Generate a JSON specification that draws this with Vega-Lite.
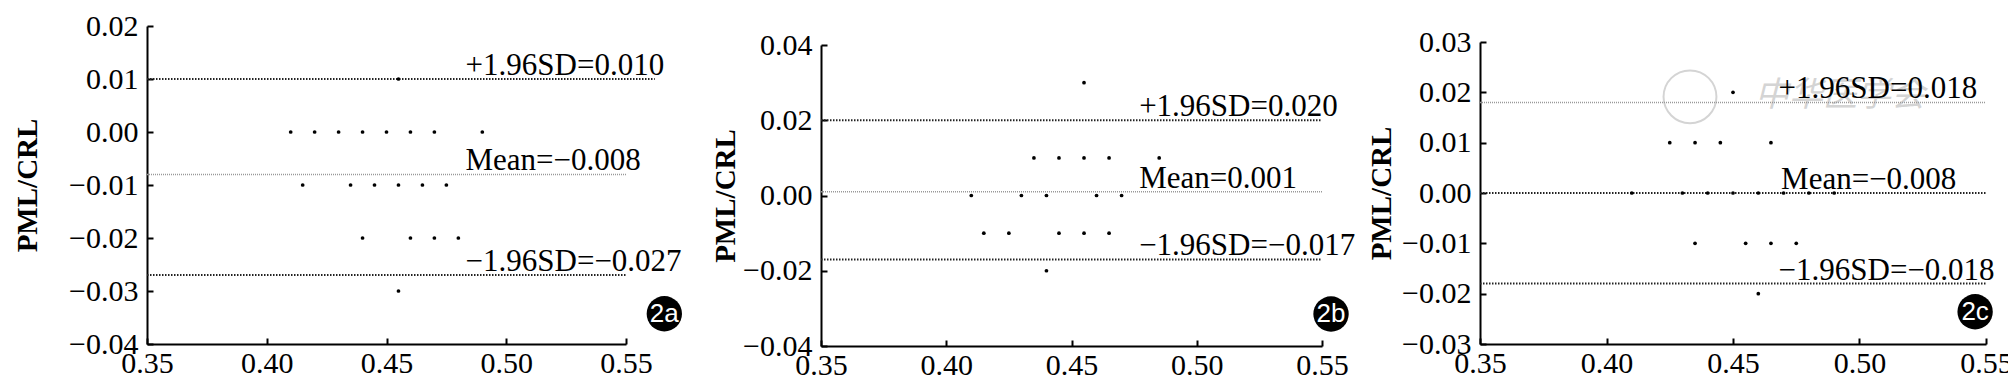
{
  "$schema": "https://vega.github.io/schema/vega-lite/v6.json",
  "padding": {"left": 13, "top": 11, "right": 0, "bottom": 0},
  "background": "white",
  "config": {
    "view": {"stroke": null},
    "axis": {
      "labelFont": "Liberation Serif", "labelFontSize": 30, "labelColor": "black",
      "domainColor": "black", "domainWidth": 2, "tickColor": "black", "tickWidth": 2, "tickSize": -6,
      "grid": false, "labelOverlap": false, "labelFlush": false, "labelBound": false,
      "titleFont": "Liberation Serif", "titleFontSize": 29, "titleFontWeight": "bold", "titleColor": "black"
    }
  },
  "datasets": {
    "pts": [
      {"panel": "a", "x": 0.455, "y": 0.01},
      {"panel": "a", "x": 0.41, "y": 0}, {"panel": "a", "x": 0.42, "y": 0}, {"panel": "a", "x": 0.43, "y": 0}, {"panel": "a", "x": 0.44, "y": 0},
      {"panel": "a", "x": 0.45, "y": 0}, {"panel": "a", "x": 0.46, "y": 0}, {"panel": "a", "x": 0.47, "y": 0}, {"panel": "a", "x": 0.49, "y": 0},
      {"panel": "a", "x": 0.415, "y": -0.01}, {"panel": "a", "x": 0.435, "y": -0.01}, {"panel": "a", "x": 0.445, "y": -0.01},
      {"panel": "a", "x": 0.455, "y": -0.01}, {"panel": "a", "x": 0.465, "y": -0.01}, {"panel": "a", "x": 0.475, "y": -0.01},
      {"panel": "a", "x": 0.44, "y": -0.02}, {"panel": "a", "x": 0.46, "y": -0.02}, {"panel": "a", "x": 0.47, "y": -0.02}, {"panel": "a", "x": 0.48, "y": -0.02},
      {"panel": "a", "x": 0.455, "y": -0.03},
      {"panel": "b", "x": 0.455, "y": 0.03},
      {"panel": "b", "x": 0.435, "y": 0.01}, {"panel": "b", "x": 0.445, "y": 0.01}, {"panel": "b", "x": 0.455, "y": 0.01}, {"panel": "b", "x": 0.465, "y": 0.01}, {"panel": "b", "x": 0.485, "y": 0.01},
      {"panel": "b", "x": 0.41, "y": 0}, {"panel": "b", "x": 0.43, "y": 0}, {"panel": "b", "x": 0.44, "y": 0}, {"panel": "b", "x": 0.46, "y": 0}, {"panel": "b", "x": 0.47, "y": 0},
      {"panel": "b", "x": 0.415, "y": -0.01}, {"panel": "b", "x": 0.425, "y": -0.01}, {"panel": "b", "x": 0.445, "y": -0.01}, {"panel": "b", "x": 0.455, "y": -0.01}, {"panel": "b", "x": 0.465, "y": -0.01},
      {"panel": "b", "x": 0.44, "y": -0.02},
      {"panel": "c", "x": 0.45, "y": 0.02},
      {"panel": "c", "x": 0.425, "y": 0.01}, {"panel": "c", "x": 0.435, "y": 0.01}, {"panel": "c", "x": 0.445, "y": 0.01}, {"panel": "c", "x": 0.465, "y": 0.01},
      {"panel": "c", "x": 0.41, "y": 0}, {"panel": "c", "x": 0.43, "y": 0}, {"panel": "c", "x": 0.44, "y": 0}, {"panel": "c", "x": 0.45, "y": 0},
      {"panel": "c", "x": 0.46, "y": 0}, {"panel": "c", "x": 0.47, "y": 0}, {"panel": "c", "x": 0.48, "y": 0}, {"panel": "c", "x": 0.49, "y": 0},
      {"panel": "c", "x": 0.435, "y": -0.01}, {"panel": "c", "x": 0.455, "y": -0.01}, {"panel": "c", "x": 0.465, "y": -0.01}, {"panel": "c", "x": 0.475, "y": -0.01},
      {"panel": "c", "x": 0.46, "y": -0.02}
    ],
    "lines": [
      {"panel": "a", "line": "upper", "x": 0.35, "xe": 0.562, "y": 0.010},
      {"panel": "a", "line": "mean", "x": 0.35, "xe": 0.55, "y": -0.008},
      {"panel": "a", "line": "lower", "x": 0.35, "xe": 0.55, "y": -0.027},
      {"panel": "b", "line": "upper", "x": 0.35, "xe": 0.55, "y": 0.020},
      {"panel": "b", "line": "mean", "x": 0.35, "xe": 0.55, "y": 0.001},
      {"panel": "b", "line": "lower", "x": 0.35, "xe": 0.55, "y": -0.017},
      {"panel": "c", "line": "upper", "x": 0.35, "xe": 0.55, "y": 0.018},
      {"panel": "c", "line": "mean", "x": 0.35, "xe": 0.55, "y": 0.0},
      {"panel": "c", "line": "lower", "x": 0.35, "xe": 0.55, "y": -0.018}
    ],
    "labels": [
      {"panel": "a", "x": 0.483, "y": 0.010, "text": "+1.96SD=0.010"},
      {"panel": "a", "x": 0.483, "y": -0.008, "text": "Mean=−0.008"},
      {"panel": "a", "x": 0.483, "y": -0.027, "text": "−1.96SD=−0.027"},
      {"panel": "b", "x": 0.477, "y": 0.020, "text": "+1.96SD=0.020"},
      {"panel": "b", "x": 0.477, "y": 0.001, "text": "Mean=0.001"},
      {"panel": "b", "x": 0.477, "y": -0.017, "text": "−1.96SD=−0.017"},
      {"panel": "c", "x": 0.468, "y": 0.018, "text": "+1.96SD=0.018"},
      {"panel": "c", "x": 0.469, "y": 0.0, "text": "Mean=−0.008"},
      {"panel": "c", "x": 0.468, "y": -0.018, "text": "−1.96SD=−0.018"}
    ],
    "badges": [
      {"panel": "a", "x": 0.566, "y": -0.0343, "text": "2a"},
      {"panel": "b", "x": 0.5536, "y": -0.0315, "text": "2b"},
      {"panel": "c", "x": 0.5457, "y": -0.0236, "text": "2c"}
    ],
    "marks": [
      {"panel": "c", "x": 0.4923, "y": 0.0193, "text": "中华医学会"}
    ],
    "seal": [
      {"panel": "c", "x": 0.433, "y": 0.0191}
    ]
  },
  "spacing": 29,
  "hconcat": [
    {
      "width": 479, "height": 318,
      "encoding": {
        "x": {"field": "x", "type": "quantitative", "scale": {"domain": [0.35, 0.55], "nice": false, "zero": false},
              "axis": {"values": [0.35, 0.4, 0.45, 0.5, 0.55], "format": ".2f", "labelPadding": 10, "title": null, "labelFont": "Liberation Serif", "labelFontSize": 30}},
        "y": {"field": "y", "type": "quantitative", "scale": {"domain": [-0.04, 0.02], "nice": false, "zero": false},
              "axis": {"values": [-0.04, -0.03, -0.02, -0.01, 0, 0.01, 0.02], "format": ".2f", "labelPadding": 15, "labelFont": "Liberation Serif", "labelFontSize": 30, "title": "PML/CRL", "titlePadding": 26}}
      },
      "layer": [
        {"data": {"name": "lines"}, "transform": [{"filter": "datum.panel === 'a' && datum.line !== 'mean'"}],
         "mark": {"type": "rule", "stroke": "#222", "strokeWidth": 2, "strokeDash": [1.5, 1.5]},
         "encoding": {"x2": {"field": "xe"}}},
        {"data": {"name": "lines"}, "transform": [{"filter": "datum.panel === 'a' && datum.line === 'mean'"}],
         "mark": {"type": "rule", "stroke": "#999", "strokeWidth": 1.5, "strokeDash": [1, 1]},
         "encoding": {"x2": {"field": "xe"}}},
        {"data": {"name": "pts"}, "transform": [{"filter": "datum.panel === 'a'"}],
         "mark": {"type": "point", "filled": true, "color": "black", "size": 14, "opacity": 1}},
        {"data": {"name": "labels"}, "transform": [{"filter": "datum.panel === 'a'"}],
         "mark": {"type": "text", "align": "left", "baseline": "alphabetic", "dy": -4, "font": "Liberation Serif", "fontSize": 31, "color": "black"},
         "encoding": {"text": {"field": "text"}}},
        {"data": {"name": "badges"}, "transform": [{"filter": "datum.panel === 'a'"}],
         "mark": {"type": "point", "filled": true, "color": "black", "size": 1250, "opacity": 1}},
        {"data": {"name": "badges"}, "transform": [{"filter": "datum.panel === 'a'"}],
         "mark": {"type": "text", "align": "center", "baseline": "middle", "font": "Liberation Sans", "fontSize": 26, "color": "white"},
         "encoding": {"text": {"field": "text"}}}
      ]
    },
    {
      "spacing": 11,
      "hconcat": [
        {
          "vconcat": [
            {"width": 501, "height": 19, "data": {"values": []}, "mark": "point"},
            {
              "width": 501, "height": 301,
              "encoding": {
                "x": {"field": "x", "type": "quantitative", "scale": {"domain": [0.35, 0.55], "nice": false, "zero": false},
                      "axis": {"values": [0.35, 0.4, 0.45, 0.5, 0.55], "format": ".2f", "labelPadding": 10, "title": null, "labelFont": "Liberation Serif", "labelFontSize": 30}},
                "y": {"field": "y", "type": "quantitative", "scale": {"domain": [-0.04, 0.04], "nice": false, "zero": false},
                      "axis": {"values": [-0.04, -0.02, 0, 0.02, 0.04], "format": ".2f", "labelPadding": 15, "labelFont": "Liberation Serif", "labelFontSize": 30, "title": "PML/CRL", "titlePadding": 2}}
              },
              "layer": [
                {"data": {"name": "lines"}, "transform": [{"filter": "datum.panel === 'b' && datum.line !== 'mean'"}],
                 "mark": {"type": "rule", "stroke": "#222", "strokeWidth": 2, "strokeDash": [1.5, 1.5]},
                 "encoding": {"x2": {"field": "xe"}}},
                {"data": {"name": "lines"}, "transform": [{"filter": "datum.panel === 'b' && datum.line === 'mean'"}],
                 "mark": {"type": "rule", "stroke": "#999", "strokeWidth": 1.5, "strokeDash": [1, 1]},
                 "encoding": {"x2": {"field": "xe"}}},
                {"data": {"name": "pts"}, "transform": [{"filter": "datum.panel === 'b'"}],
                 "mark": {"type": "point", "filled": true, "color": "black", "size": 14, "opacity": 1}},
                {"data": {"name": "labels"}, "transform": [{"filter": "datum.panel === 'b'"}],
                 "mark": {"type": "text", "align": "left", "baseline": "alphabetic", "dy": -4, "font": "Liberation Serif", "fontSize": 31, "color": "black"},
                 "encoding": {"text": {"field": "text"}}},
                {"data": {"name": "badges"}, "transform": [{"filter": "datum.panel === 'b'"}],
                 "mark": {"type": "point", "filled": true, "color": "black", "size": 1250, "opacity": 1}},
                {"data": {"name": "badges"}, "transform": [{"filter": "datum.panel === 'b'"}],
                 "mark": {"type": "text", "align": "center", "baseline": "middle", "font": "Liberation Sans", "fontSize": 26, "color": "white"},
                 "encoding": {"text": {"field": "text"}}}
              ]
            }
          ],
          "spacing": 0,
          "bounds": "flush"
        },
        {
          "vconcat": [
            {"width": 506, "height": 16, "data": {"values": []}, "mark": "point"},
            {
              "width": 506, "height": 302,
              "encoding": {
                "x": {"field": "x", "type": "quantitative", "scale": {"domain": [0.35, 0.55], "nice": false, "zero": false},
                      "axis": {"values": [0.35, 0.4, 0.45, 0.5, 0.55], "format": ".2f", "labelPadding": 10, "title": null, "labelFont": "Liberation Serif", "labelFontSize": 30}},
                "y": {"field": "y", "type": "quantitative", "scale": {"domain": [-0.03, 0.03], "nice": false, "zero": false},
                      "axis": {"values": [-0.03, -0.02, -0.01, 0, 0.01, 0.02, 0.03], "format": ".2f", "labelPadding": 15, "labelFont": "Liberation Serif", "labelFontSize": 30, "title": "PML/CRL", "titlePadding": 5}}
              },
              "layer": [
                {"data": {"name": "seal"}, "transform": [{"filter": "datum.panel === 'c'"}],
                 "mark": {"type": "point", "filled": false, "stroke": "#d4d4d4", "strokeWidth": 2, "size": 2800, "opacity": 1}},
                {"data": {"name": "marks"}, "transform": [{"filter": "datum.panel === 'c'"}],
                 "mark": {"type": "text", "align": "center", "baseline": "middle", "font": "Noto Sans CJK SC", "fontSize": 34, "fontStyle": "italic", "color": "#d4d4d4"},
                 "encoding": {"text": {"field": "text"}}},
                {"data": {"name": "lines"}, "transform": [{"filter": "datum.panel === 'c' && datum.line !== 'upper'"}],
                 "mark": {"type": "rule", "stroke": "#222", "strokeWidth": 2, "strokeDash": [1.5, 1.5]},
                 "encoding": {"x2": {"field": "xe"}}},
                {"data": {"name": "lines"}, "transform": [{"filter": "datum.panel === 'c' && datum.line === 'upper'"}],
                 "mark": {"type": "rule", "stroke": "#999", "strokeWidth": 1.5, "strokeDash": [1, 1]},
                 "encoding": {"x2": {"field": "xe"}}},
                {"data": {"name": "pts"}, "transform": [{"filter": "datum.panel === 'c'"}],
                 "mark": {"type": "point", "filled": true, "color": "black", "size": 14, "opacity": 1}},
                {"data": {"name": "labels"}, "transform": [{"filter": "datum.panel === 'c'"}],
                 "mark": {"type": "text", "align": "left", "baseline": "alphabetic", "dy": -4, "font": "Liberation Serif", "fontSize": 31, "color": "black"},
                 "encoding": {"text": {"field": "text"}}},
                {"data": {"name": "badges"}, "transform": [{"filter": "datum.panel === 'c'"}],
                 "mark": {"type": "point", "filled": true, "color": "black", "size": 1250, "opacity": 1}},
                {"data": {"name": "badges"}, "transform": [{"filter": "datum.panel === 'c'"}],
                 "mark": {"type": "text", "align": "center", "baseline": "middle", "font": "Liberation Sans", "fontSize": 26, "color": "white"},
                 "encoding": {"text": {"field": "text"}}}
              ]
            }
          ],
          "spacing": 0,
          "bounds": "flush"
        }
      ]
    }
  ]
}
